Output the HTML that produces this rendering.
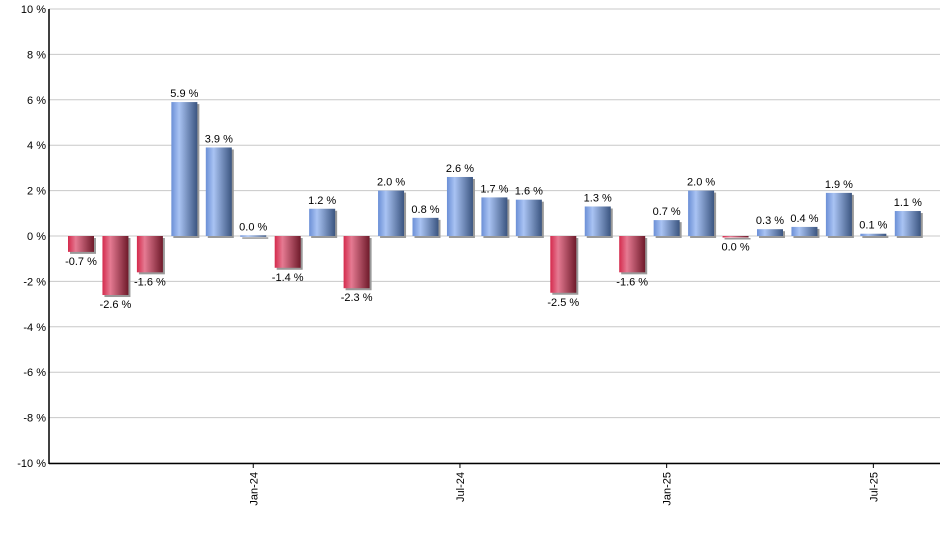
<!DOCTYPE html>
<html><head><meta charset="utf-8"><style>
body{margin:0;background:#fff;}
svg text{font-family:"Liberation Sans",sans-serif;font-size:11px;fill:#000;}
</style></head><body>
<svg id="chart" width="940" height="550" xmlns="http://www.w3.org/2000/svg">
<defs>
<linearGradient id="gb" x1="0" x2="1" y1="0" y2="0"><stop offset="0" stop-color="#6b8fd6"/><stop offset="0.3" stop-color="#a9c3f3"/><stop offset="1" stop-color="#3b5580"/></linearGradient>
<linearGradient id="gr" x1="0" x2="1" y1="0" y2="0"><stop offset="0" stop-color="#d42a4c"/><stop offset="0.3" stop-color="#e57a92"/><stop offset="1" stop-color="#6e1a2a"/></linearGradient>
</defs>
<g id="grid"></g><g id="bars"></g><g id="axes"></g>
</svg>
<script>
const months=["Aug-23","Sep-23","Oct-23","Nov-23","Dec-23","Jan-24","Feb-24","Mar-24","Apr-24","May-24","Jun-24","Jul-24","Aug-24","Sep-24","Oct-24","Nov-24","Dec-24","Jan-25","Feb-25","Mar-25","Apr-25","May-25","Jun-25","Jul-25","Aug-25"];
const values=[-0.7,-2.6,-1.6,5.9,3.9,0.03,-1.4,1.2,-2.3,2.0,0.8,2.6,1.7,1.6,-2.5,1.3,-1.6,0.7,2.0,-0.04,0.3,0.4,1.9,0.1,1.1];
const yTicks=[-10,-8,-6,-4,-2,0,2,4,6,8,10];
const xTickLabels=["Jan-24","Jul-24","Jan-25","Jul-25"];
const NS="http://www.w3.org/2000/svg";
const y=v=>236-22.7*v;
const x=i=>81+i*34.45;
function mk(t,a,p){const e=document.createElementNS(NS,t);for(const k in a)e.setAttribute(k,a[k]);p.appendChild(e);return e;}
const grid=document.getElementById('grid'),bars=document.getElementById('bars'),axes=document.getElementById('axes');
yTicks.forEach(t=>{
 const l=mk('line',{x1:49,x2:940,y1:y(t),y2:y(t),stroke:'#c8c8c8','stroke-width':1},grid);
 
 
 const tx=mk('text',{x:46,y:y(t)+4,'text-anchor':'end'},axes);tx.textContent=t+' %';
 
 
});
values.forEach((v,i)=>{
 const top=Math.min(y(v),y(0)),h=Math.max(Math.abs(y(v)-y(0)),1.5),cx=x(i);
 mk('rect',{x:cx-13+2,y:top+2,width:26,height:h,fill:'#999'},bars);
 const r=mk('rect',{x:cx-13,y:top,width:26,height:h,fill:v>=0?'url(#gb)':'url(#gr)'},bars);
 
 
 const lb=mk('text',{x:cx,y:v>=0?top-5:top+h+13,'text-anchor':'middle'},bars);
 lb.textContent=(Math.abs(v)<0.05?'0.0':v.toFixed(1))+' %';
 
 
});
mk('line',{x1:49,x2:49,y1:9,y2:464,stroke:'#000','stroke-width':1.5},axes);
mk('line',{x1:49,x2:940,y1:463.5,y2:463.5,stroke:'#000','stroke-width':1.5},axes);
xTickLabels.forEach(m=>{
 const i=months.indexOf(m),cx=x(i);
 mk('line',{x1:cx,x2:cx,y1:463,y2:468,stroke:'#000'},axes);
 const t=mk('text',{x:0,y:0,'text-anchor':'end',transform:`translate(${cx+4},472) rotate(-90)`},axes);
 t.textContent=m;
 
 
});
</script>
</body></html>
